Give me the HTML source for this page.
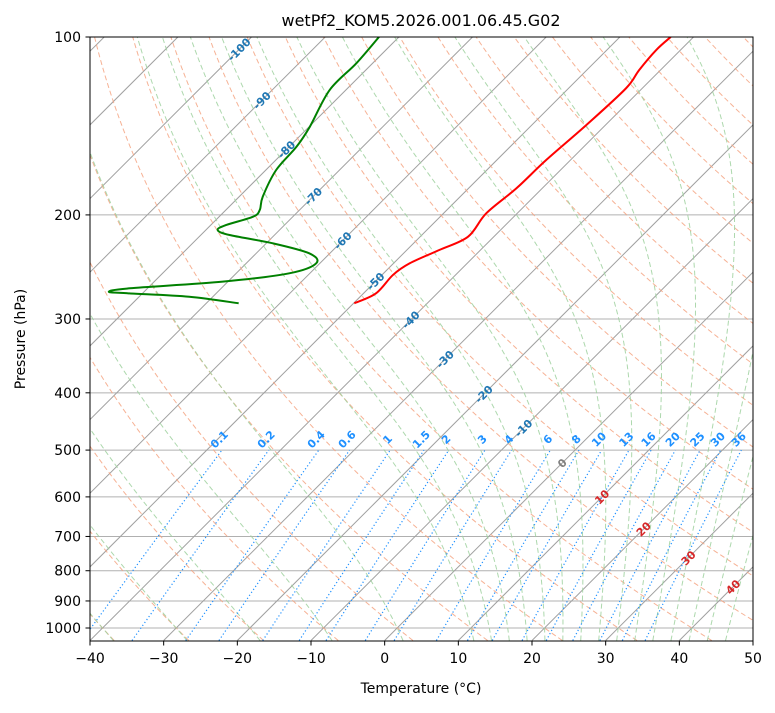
<!DOCTYPE html>
<html><head><meta charset="utf-8"><style>
body{margin:0;background:#fff;}
svg text{font-family:"DejaVu Sans","Liberation Sans",sans-serif;}
</style></head><body>
<svg id="c" width="775" height="708" viewBox="0 0 775 708" xmlns="http://www.w3.org/2000/svg">
<defs><clipPath id="pc"><rect x="90" y="37" width="663" height="604"/></clipPath></defs>
<rect x="0" y="0" width="775" height="708" fill="#fff"/>
<g id="bg" clip-path="url(#pc)"></g>
<g id="fg" clip-path="url(#pc)"></g>
<g id="lab"></g>
<rect x="90" y="37" width="663" height="604" fill="none" stroke="#000" stroke-width="1"/>
<g id="axes"></g>
<text x="421" y="26" text-anchor="middle" font-size="16">wetPf2_KOM5.2026.001.06.45.G02</text>
<text x="421" y="693" text-anchor="middle" font-size="14">Temperature (°C)</text>
<text x="25" y="339" text-anchor="middle" font-size="14" transform="rotate(-90 25 339)">Pressure (hPa)</text>
</svg>
<script>
const tempP=[282.2,271.5,252.7,241.5,229.3,217.7,198.7,180.3,161.5,140.9,122.1,113.7,105.2,100];
const tempT=[-49.9,-48.3,-48.5,-47.8,-45.6,-43.5,-44.2,-43.5,-43.3,-42.6,-42.2,-42.9,-43.3,-43.1];
const dewP=[282.2,275.1,271.5,269.8,266.2,259.4,251.1,241.5,232.3,223.4,216.3,212.1,208.0,201.4,196.2,186.3,167.9,153.3,141.9,122.9,110.8,100];
const dewT=[-65.6,-73.2,-81.8,-84.8,-82.4,-70.7,-62.8,-60.5,-62.8,-69.1,-76.1,-78.4,-77.9,-75.4,-75.4,-76.8,-78.6,-79.0,-79.9,-82.2,-82.2,-82.7];
const xTicks=[-40,-30,-20,-10,0,10,20,30,40,50];
const yTicks=[100,200,300,400,500,600,700,800,900,1000];
const mixW=[0.1,0.2,0.4,0.6,1,1.5,2,3,4,6,8,10,13,16,20,25,30,36];
const isoLabelT=[-100,-90,-80,-70,-60,-50,-40,-30,-20,-10,0,10,20,30,40];
const isoLabelP=[105,128,155,186,221,259,301,351,402,459,526,600,680,761,852];
const dryT0=[];for(let t=-40;t<=200;t+=10)dryT0.push(t);
const moistT0=[-50,-40,-30,-20,-10,0,10,12.5,15,17.5,20,22.5,25,27.5,30,32.5,35,37.5,40,42.5,45];

const NS="http://www.w3.org/2000/svg";
const yP=p=>37+591*Math.log10(p/100);
const BOT=yP(1050);
const xTP=(t,p)=>90+(t+40)*663/90+(BOT-yP(p));
function el(tag,attrs,parent){const e=document.createElementNS(NS,tag);for(const k in attrs)e.setAttribute(k,attrs[k]);parent.appendChild(e);return e;}
const bg=document.getElementById('bg'),fg=document.getElementById('fg'),lab=document.getElementById('lab'),ax=document.getElementById('axes');
function pathOf(ps,ts){return ps.map((p,i)=>(i?'L':'M')+xTP(ts[i],p).toFixed(2)+','+yP(p).toFixed(2)).join('');}
function smoothPath(ps,ts){
  const pts=ps.map((p,i)=>[xTP(ts[i],p),yP(p)]);
  let d='M'+pts[0][0].toFixed(2)+','+pts[0][1].toFixed(2);
  for(let i=0;i<pts.length-1;i++){
    const p0=pts[Math.max(0,i-1)],p1=pts[i],p2=pts[i+1],p3=pts[Math.min(pts.length-1,i+2)];
    const c1=[p1[0]+(p2[0]-p0[0])/6,p1[1]+(p2[1]-p0[1])/6];
    const c2=[p2[0]-(p3[0]-p1[0])/6,p2[1]-(p3[1]-p1[1])/6];
    d+='C'+c1[0].toFixed(2)+','+c1[1].toFixed(2)+' '+c2[0].toFixed(2)+','+c2[1].toFixed(2)+' '+p2[0].toFixed(2)+','+p2[1].toFixed(2);
  }
  return d;
}
function presRange(p0,p1,n){const a=[];for(let i=0;i<=n;i++)a.push(p0*Math.pow(p1/p0,i/n));return a;}

yTicks.forEach(p=>{
  const l=el('line',{x1:90,x2:753,y1:yP(p),y2:yP(p),stroke:'#b0b0b0','stroke-width':1},bg);
  
  
});
for(let t=-140;t<=50;t+=10){
  const l=el('line',{x1:xTP(t,1050),y1:yP(1050),x2:xTP(t,100),y2:yP(100),stroke:'#a0a0a0','stroke-width':1},bg);
  
  
}
const pr=presRange(1050,100,60);
dryT0.forEach(t0=>{
  const th=t0+273.15;
  const ts=pr.map(p=>th*Math.pow(p/1000,0.2857)-273.15);
  const l=el('path',{d:pathOf(pr,ts),fill:'none',stroke:'#f4a582','stroke-width':1,'stroke-dasharray':'5,3',opacity:0.85},bg);
  
  
});
function es(tc){return 6.112*Math.exp(17.67*tc/(tc+243.5));}
function dTdp(T,p){const tc=T-273.15;const e=es(tc);const rs=0.622*e/(p-e);const Rd=287.04,Lv=2.501e6,Cp=1005.7;
  return (1/p)*(Rd*T+Lv*rs)/(Cp+Lv*Lv*rs*0.622/(Rd*T*T));}
function moist(t0){
  let Td=t0+273.15,pd=1000;const n=40;
  for(let i=0;i<n;i++){const p2=1000*Math.pow(1.05,(i+1)/n);const dp=p2-pd;Td+=dTdp(Td,pd+dp/2)*dp;pd=p2;}
  const N=200;const ps=[1050],ts=[Td-273.15];
  let T=Td,p=1050;
  for(let i=1;i<=N;i++){const p2=1050*Math.pow(100/1050,i/N);const dp=p2-p;
    const k1=dTdp(T,p),k2=dTdp(T+k1*dp/2,p+dp/2),k3=dTdp(T+k2*dp/2,p+dp/2),k4=dTdp(T+k3*dp,p2);
    T+=dp*(k1+2*k2+2*k3+k4)/6;p=p2;ps.push(p);ts.push(T-273.15);}
  return [ps,ts];
}
moistT0.forEach(t0=>{
  const [ps,ts]=moist(t0);
  const l=el('path',{d:pathOf(ps,ts),fill:'none',stroke:'#9fd19f','stroke-width':1,'stroke-dasharray':'5,3',opacity:0.85},bg);
  
  
});
function tdFromW(wgkg,p){const w=wgkg/1000;const e=w*p/(0.622+w);const L=Math.log(e/6.112);return 243.5*L/(17.67-L);}
const prm=presRange(1050,500,20);
mixW.forEach(w=>{
  const ts=prm.map(p=>tdFromW(w,p));
  const l=el('path',{d:pathOf(prm,ts),fill:'none',stroke:'#1e90ff','stroke-width':1.2,'stroke-dasharray':'1.2,2.4'},bg);
  
  
  const x=xTP(tdFromW(w,500),500),y=yP(500)-8;
  const t=el('text',{x:x,y:y,'text-anchor':'middle','font-size':11,'font-weight':'bold',fill:'#1e90ff',transform:`rotate(-45 ${x} ${y})`},lab);
  t.textContent=String(w);
  
  
});
isoLabelT.forEach((tv,i)=>{
  const p=isoLabelP[i];const x=xTP(tv,p),y=yP(p)+4;
  const col=tv<0?'#1f77b4':(tv===0?'#808080':'#d62728');
  const t=el('text',{x:x,y:y,'text-anchor':'middle','font-size':11,'font-weight':'bold',fill:col,transform:`rotate(-45 ${x} ${y-4})`},lab);
  t.textContent=String(tv);
  
  
});
const tl=el('path',{d:smoothPath(tempP,tempT),fill:'none',stroke:'#ff0000','stroke-width':2,'stroke-linejoin':'round'},fg);


const dl=el('path',{d:smoothPath(dewP,dewT),fill:'none',stroke:'#008000','stroke-width':2,'stroke-linejoin':'round'},fg);


xTicks.forEach(t=>{
  const x=90+(t+40)*663/90;
  const l=el('line',{x1:x,x2:x,y1:641,y2:645.5,stroke:'#000','stroke-width':1},ax);
  
  
  const tx=el('text',{x:x,y:663,'text-anchor':'middle','font-size':14},ax);
  tx.textContent=(t<0?'\u2212'+(-t):String(t));
  
  
});
yTicks.forEach(p=>{
  const y=yP(p);
  const l=el('line',{x1:85.5,x2:90,y1:y,y2:y,stroke:'#000','stroke-width':1},ax);
  
  
  const tx=el('text',{x:81,y:y+5,'text-anchor':'end','font-size':14},ax);
  tx.textContent=String(p);
  
  
});
</script>
</body></html>
